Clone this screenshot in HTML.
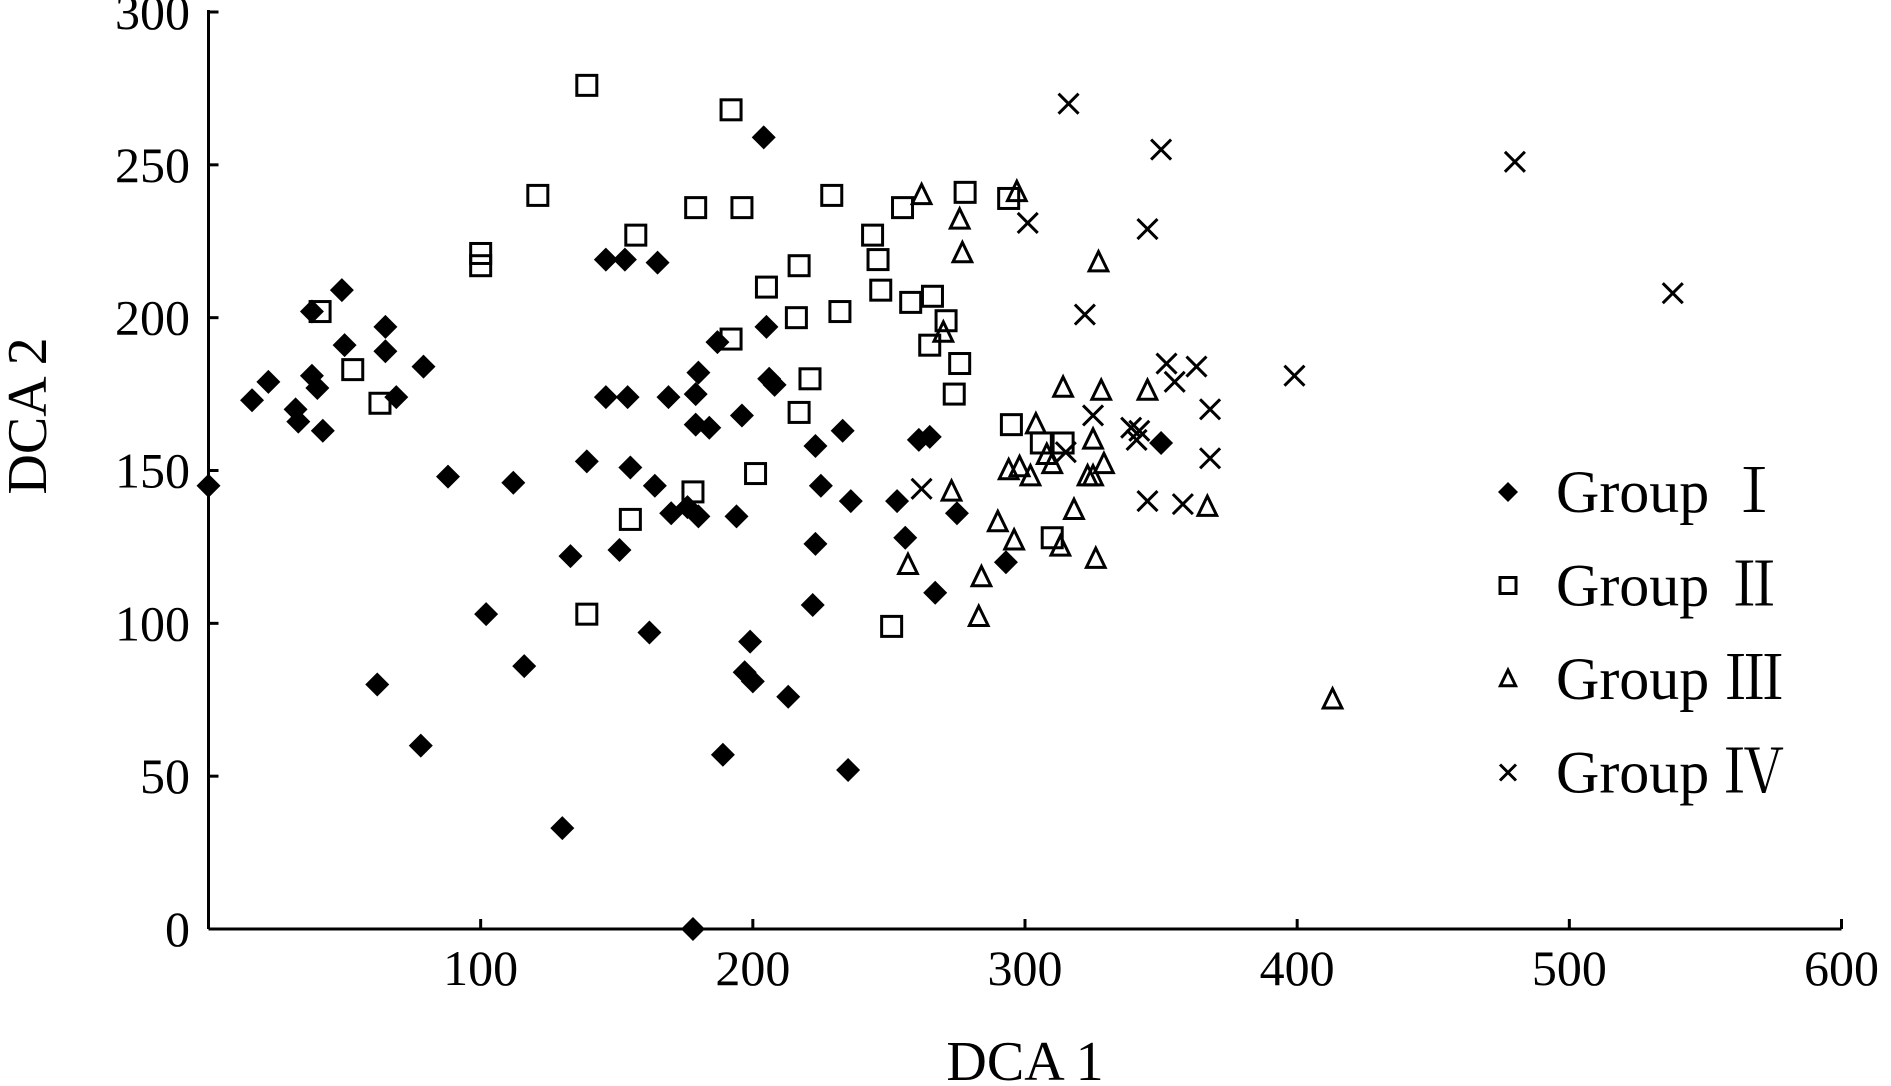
<!DOCTYPE html>
<html><head><meta charset="utf-8"><style>
html,body{margin:0;padding:0;background:#fff;}
svg{display:block;}
text{font-family:"Liberation Serif","Noto Serif CJK SC",serif;fill:#000;}
</style></head>
<body>
<svg id="chart" width="1891" height="1086" viewBox="0 0 1891 1086" xmlns="http://www.w3.org/2000/svg">
<g id="axes"></g>
<g id="marks"></g>
<g id="legend"></g>
</svg>
<script>
const xTicks = [100,200,300,400,500,600];
const yTicks = [0,50,100,150,200,250,300];
const g1x = [0,16,22,32,33,38,38,40,42,49,50,65,65,69,79,88,62,78,102,112,116,130,133,139,146,153,165,146,154,151,155,162,164,169,170,176,180,179,179,184,180,178,187,189,194,196,197,199,200,204,205,206,208,213,223,223,222,225,233,236,235,253,256,261,265,267,275,293,350];
const g1y = [145,173,179,170,166,202,181,177,163,209,191,197,189,174,184,148,80,60,103,146,86,33,122,153,219,219,218,174,174,124,151,97,145,174,136,138,182,175,165,164,135,0,192,57,135,168,84,94,81,259,197,180,178,76,126,158,106,145,163,140,52,140,128,160,161,110,136,120,159];
const g2x = [139,192,121,100,100,41,53,63,157,179,196,192,205,217,216,221,217,232,229,244,246,247,255,258,266,271,265,276,274,278,294,295,306,314,310,178,155,201,139,251];
const g2y = [276,268,240,221,217,202,183,172,227,236,236,193,210,217,200,180,169,202,240,227,219,209,236,205,207,199,191,185,175,241,239,165,159,159,128,143,134,149,103,99];
const g3x = [262,297,276,277,327,270,314,328,345,304,294,298,302,308,310,325,323,325,329,318,273,290,296,313,326,284,283,257,367,413];
const g3y = [240,241,232,221,218,195,177,176,176,165,150,151,148,155,152,160,148,148,152,137,143,133,127,125,121,115,102,119,138,75];
const g4x = [316,350,480,301,345,322,538,352,363,355,399,368,325,339,341,342,368,315,262,345,358];
const g4y = [270,255,251,231,229,201,208,185,184,179,181,170,168,164,160,163,154,156,144,140,139];

const NS='http://www.w3.org/2000/svg';
const X0=208.5, X1=1841.5, Y0=929, Y1=12;
function sx(v){return X0+(v/600)*(X1-X0);}
function sy(v){return Y0-(v/300)*(Y0-Y1);}
function mk(tag,attrs,parent){const e=document.createElementNS(NS,tag);for(const k in attrs)e.setAttribute(k,attrs[k]);parent.appendChild(e);return e;}
const axes=document.getElementById('axes'), marks=document.getElementById('marks'), legend=document.getElementById('legend');

let l=mk('line',{x1:X0,y1:Y1-2,x2:X0,y2:Y0,stroke:'#000','stroke-width':3},axes);


l=mk('line',{x1:X0,y1:Y0,x2:X1,y2:Y0,stroke:'#000','stroke-width':3},axes);


xTicks.forEach(v=>{
  const t=mk('line',{x1:sx(v),y1:Y0,x2:sx(v),y2:Y0-10,stroke:'#000','stroke-width':3},axes);
  
  
  const tx=mk('text',{x:sx(v),y:Y0+56,'text-anchor':'middle','font-size':50},axes);
  tx.textContent=v;
  
  
});
yTicks.forEach(v=>{
  const t=mk('line',{x1:X0,y1:sy(v),x2:X0+10,y2:sy(v),stroke:'#000','stroke-width':3},axes);
  
  
  const tx=mk('text',{x:190,y:sy(v)+17,'text-anchor':'end','font-size':50},axes);
  tx.textContent=v;
  
  
});
let tt=mk('text',{x:1025,y:1080,'text-anchor':'middle','font-size':56},axes);
tt.textContent='DCA 1';


tt=mk('text',{x:0,y:0,'text-anchor':'middle','font-size':56,transform:'translate(46,416) rotate(-90)'},axes);
tt.textContent='DCA 2';



function diamond(cx,cy,r,p){return mk('polygon',{points:`${cx},${cy-r} ${cx+r},${cy} ${cx},${cy+r} ${cx-r},${cy}`,fill:'#000'},p);}
function square(cx,cy,r,p){return mk('rect',{x:cx-r,y:cy-r,width:2*r,height:2*r,fill:'none',stroke:'#000','stroke-width':3},p);}
function tri(cx,cy,r,p){return mk('polygon',{points:`${cx},${cy-r} ${cx+r*0.85},${cy+r*0.75} ${cx-r*0.85},${cy+r*0.75}`,fill:'none',stroke:'#000','stroke-width':3},p);}
function cross(cx,cy,r,p){return mk('path',{d:`M${cx-r},${cy-r}L${cx+r},${cy+r}M${cx+r},${cy-r}L${cx-r},${cy+r}`,stroke:'#000','stroke-width':3,fill:'none'},p);}

g1x.forEach((v,i)=>{const e=diamond(sx(v),sy(g1y[i]),12,marks);
  
  });
g2x.forEach((v,i)=>{const e=square(sx(v),sy(g2y[i]),10,marks);
  
  });
g3x.forEach((v,i)=>{const e=tri(sx(v),sy(g3y[i]),11,marks);
  
  });
g4x.forEach((v,i)=>{const e=cross(sx(v),sy(g4y[i]),10,marks);
  
  });

const legendLabels=['Group Ⅰ','Group Ⅱ','Group Ⅲ','Group Ⅳ'];
const fns=[diamond,square,tri,cross];
const rs=[10,8,9,8];
legendLabels.forEach((lab,i)=>{
  const y=492+i*93.5;
  const g=mk('g',{},legend);
  
  
  fns[i](1508,y,rs[i],g);
  const t=mk('text',{x:1556,y:y+20,'font-size':60},g);
  t.textContent=lab;
});
</script>
</body></html>
